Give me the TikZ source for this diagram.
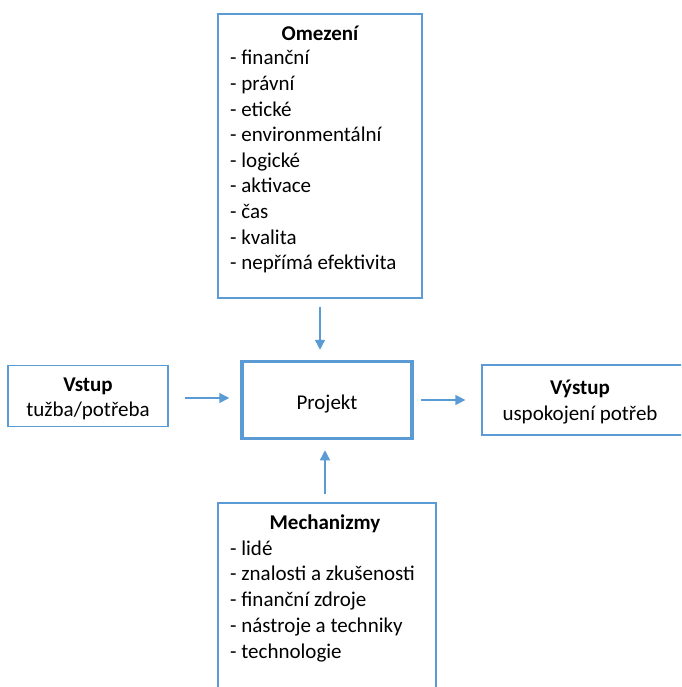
\documentclass[tikz,border=0pt]{standalone}
\usepackage{fontspec}
\setmainfont{Carlito}
\usetikzlibrary{arrows.meta}
\definecolor{oblue}{HTML}{5B9BD5}
\tikzset{
  box/.style={draw=oblue, line width=1.4pt, inner sep=0pt, fill=white},
  mainbox/.style={draw=oblue, line width=3.5pt, inner sep=0pt, fill=white},
  txt/.style={inner sep=0pt, font=\fontsize{21}{25}\selectfont, text=black},
  ttl/.style={txt, font=\fontsize{21}{25}\selectfont\bfseries},
  arr/.style={draw=oblue, line width=1.4pt, -{Triangle[length=10pt,width=10pt]}}
}
\begin{document}
\begin{tikzpicture}[x=1pt,y=-1pt]
\clip (0,0) rectangle (681,687);
\fill[white] (0,0) rectangle (681,687);
% boxes
\node[box, minimum width=204pt, minimum height=284pt] (omez) at (320,156) {};
\node[mainbox, minimum width=170pt, minimum height=77pt] (proj) at (327,400) {};
\node[box, minimum width=160pt, minimum height=61pt] (vstup) at (88,396) {};
\node[box, minimum width=240pt, minimum height=70pt] (vystup) at (602,400) {};
\node[box, minimum width=218pt, minimum height=220pt] (mech) at (327,613) {};
% Omezeni text
\node[ttl, anchor=base] (omt) at (320,41) {Omezení};
\node[txt, anchor=base west] (o1) at (230,65) {- finanční};
\node[txt, anchor=base west] (o2) at (230,90.6) {- právní};
\node[txt, anchor=base west] (o3) at (230,116.2) {- etické};
\node[txt, anchor=base west] (o4) at (230,141.8) {- environmentální};
\node[txt, anchor=base west] (o5) at (230,167.4) {- logické};
\node[txt, anchor=base west] (o6) at (230,193) {- aktivace};
\node[txt, anchor=base west] (o7) at (230,218.6) {- čas};
\node[txt, anchor=base west] (o8) at (230,244.2) {- kvalita};
\node[txt, anchor=base west] (o9) at (230,269.8) {- nepřímá efektivita};
% Projekt
\node[txt, anchor=base] (pt) at (327,409) {Projekt};
% Vstup
\node[ttl, anchor=base] (vt) at (88,391) {Vstup};
\node[txt, anchor=base] (vs) at (88,416) {tužba/potřeba};
% Vystup
\node[ttl, anchor=base] (yt) at (580,394) {Výstup};
\node[txt, anchor=base] (ys) at (580,420) {uspokojení potřeb};
% Mechanizmy
\node[ttl, anchor=base] (mt) at (325,529) {Mechanizmy};
\node[txt, anchor=base west] (m1) at (230,555) {- lidé};
\node[txt, anchor=base west] (m2) at (230,580.8) {- znalosti a zkušenosti};
\node[txt, anchor=base west] (m3) at (230,606.6) {- finanční zdroje};
\node[txt, anchor=base west] (m4) at (230,632.4) {- nástroje a techniky};
\node[txt, anchor=base west] (m5) at (230,658.2) {- technologie};
% arrows
\draw[arr, shorten <=8pt, shorten >=10pt] (omez.south) -- (omez.south |- proj.north);
\draw[arr, shorten <=16pt, shorten >=11pt] (vstup.east |- 0,398) coordinate (va) -- (va -| proj.west);
\draw[arr, shorten <=7pt, shorten >=16pt] (proj.east) -- (proj.east -| vystup.west);
\draw[arr, shorten <=8pt, shorten >=10pt] ([xshift=-2pt]mech.north) -- ([xshift=-2pt]mech.north |- proj.south);
\end{tikzpicture}
\end{document}
